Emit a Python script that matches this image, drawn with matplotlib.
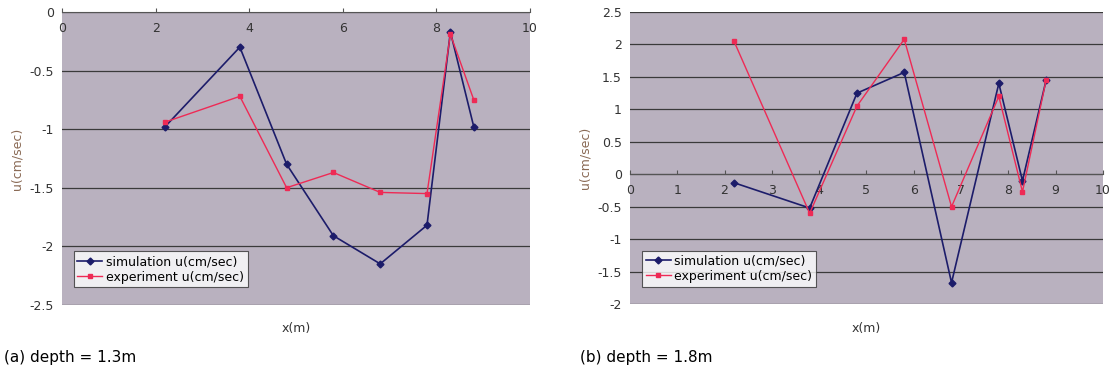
import matplotlib.pyplot as plt
import numpy as np

# sampling positions (m)
x_pos = [2.2, 3.8, 4.8, 5.8, 6.8, 7.8, 8.3, 8.8]

# (a) depth = 1.3m
sim_a = [-0.98, -0.30, -1.30, -1.91, -2.15, -1.82, -0.17, -0.98]
exp_a = [-0.94, -0.72, -1.50, -1.37, -1.54, -1.55, -0.19, -0.75]

# (b) depth = 1.8m
sim_b = [-0.13, -0.52, 1.25, 1.57, -1.67, 1.40, -0.10, 1.45]
exp_b = [2.05, -0.60, 1.05, 2.08, -0.50, 1.20, -0.27, 1.45]

captions = ["(a) depth = 1.3m", "(b) depth = 1.8m"]

BG = "#b9b1bf"
SIM_C = "#1c1c6a"
EXP_C = "#ee2a55"


def draw_panel(ax, sim, exp, ylim, xticks_step):
    ax.set_facecolor(BG)
    ax.set_xlim(0, 10)
    ax.set_ylim(*ylim)
    yt = np.arange(ylim[0], ylim[1] + 0.01, 0.5)
    for y in yt:
        ax.axhline(y, color="#3a3a3a", lw=0.9, zorder=1)
    ax.plot(x_pos, sim, color=SIM_C, lw=1.2, marker="D", ms=3.5,
            label="simulation u(cm/sec)", zorder=3)
    ax.plot(x_pos, exp, color=EXP_C, lw=1.0, marker="s", ms=3.5,
            label="experiment u(cm/sec)", zorder=3)
    for s in ["top", "right", "left"]:
        ax.spines[s].set_visible(False)
    ax.spines["bottom"].set_position(("data", 0))
    ax.spines["bottom"].set_color("#555555")
    ax.set_xticks(np.arange(0, 10.01, xticks_step))
    ax.set_yticks(yt)
    ax.set_yticklabels(["%g" % v for v in yt])
    ax.tick_params(axis="x", direction="in", length=3, color="#555555",
                   labelsize=9, labelcolor="#333333", pad=7)
    ax.tick_params(axis="y", length=0, labelsize=9, labelcolor="#333333", pad=6)
    ax.set_ylabel("u(cm/sec)", color="#8a6a55", fontsize=9, labelpad=4)
    ax.set_xlabel("x(m)", fontsize=9, color="#333333")
    ax.xaxis.set_label_coords(0.5, -0.06)
    leg = ax.legend(loc="lower left", bbox_to_anchor=(0.025, 0.06),
                    fontsize=9, frameon=True, fancybox=False,
                    handlelength=2.0, handletextpad=0.3, borderpad=0.3,
                    labelspacing=0.2, borderaxespad=0)
    leg.get_frame().set_edgecolor("#333333")
    leg.get_frame().set_linewidth(0.8)
    leg.get_frame().set_facecolor("white")


fig = plt.figure(figsize=(11.14, 3.75), dpi=100)
ax1 = fig.add_axes([0.0557, 0.187, 0.420, 0.781])
ax2 = fig.add_axes([0.5655, 0.189, 0.4245, 0.779])

draw_panel(ax1, sim_a, exp_a, (-2.5, 0), 2)
draw_panel(ax2, sim_b, exp_b, (-2, 2.5), 1)

fig.text(0.004, 0.035, captions[0], fontsize=11, family="Liberation Sans Narrow")
fig.text(0.521, 0.035, captions[1], fontsize=11, family="Liberation Sans Narrow")

fig.savefig("out.png", dpi=100)
